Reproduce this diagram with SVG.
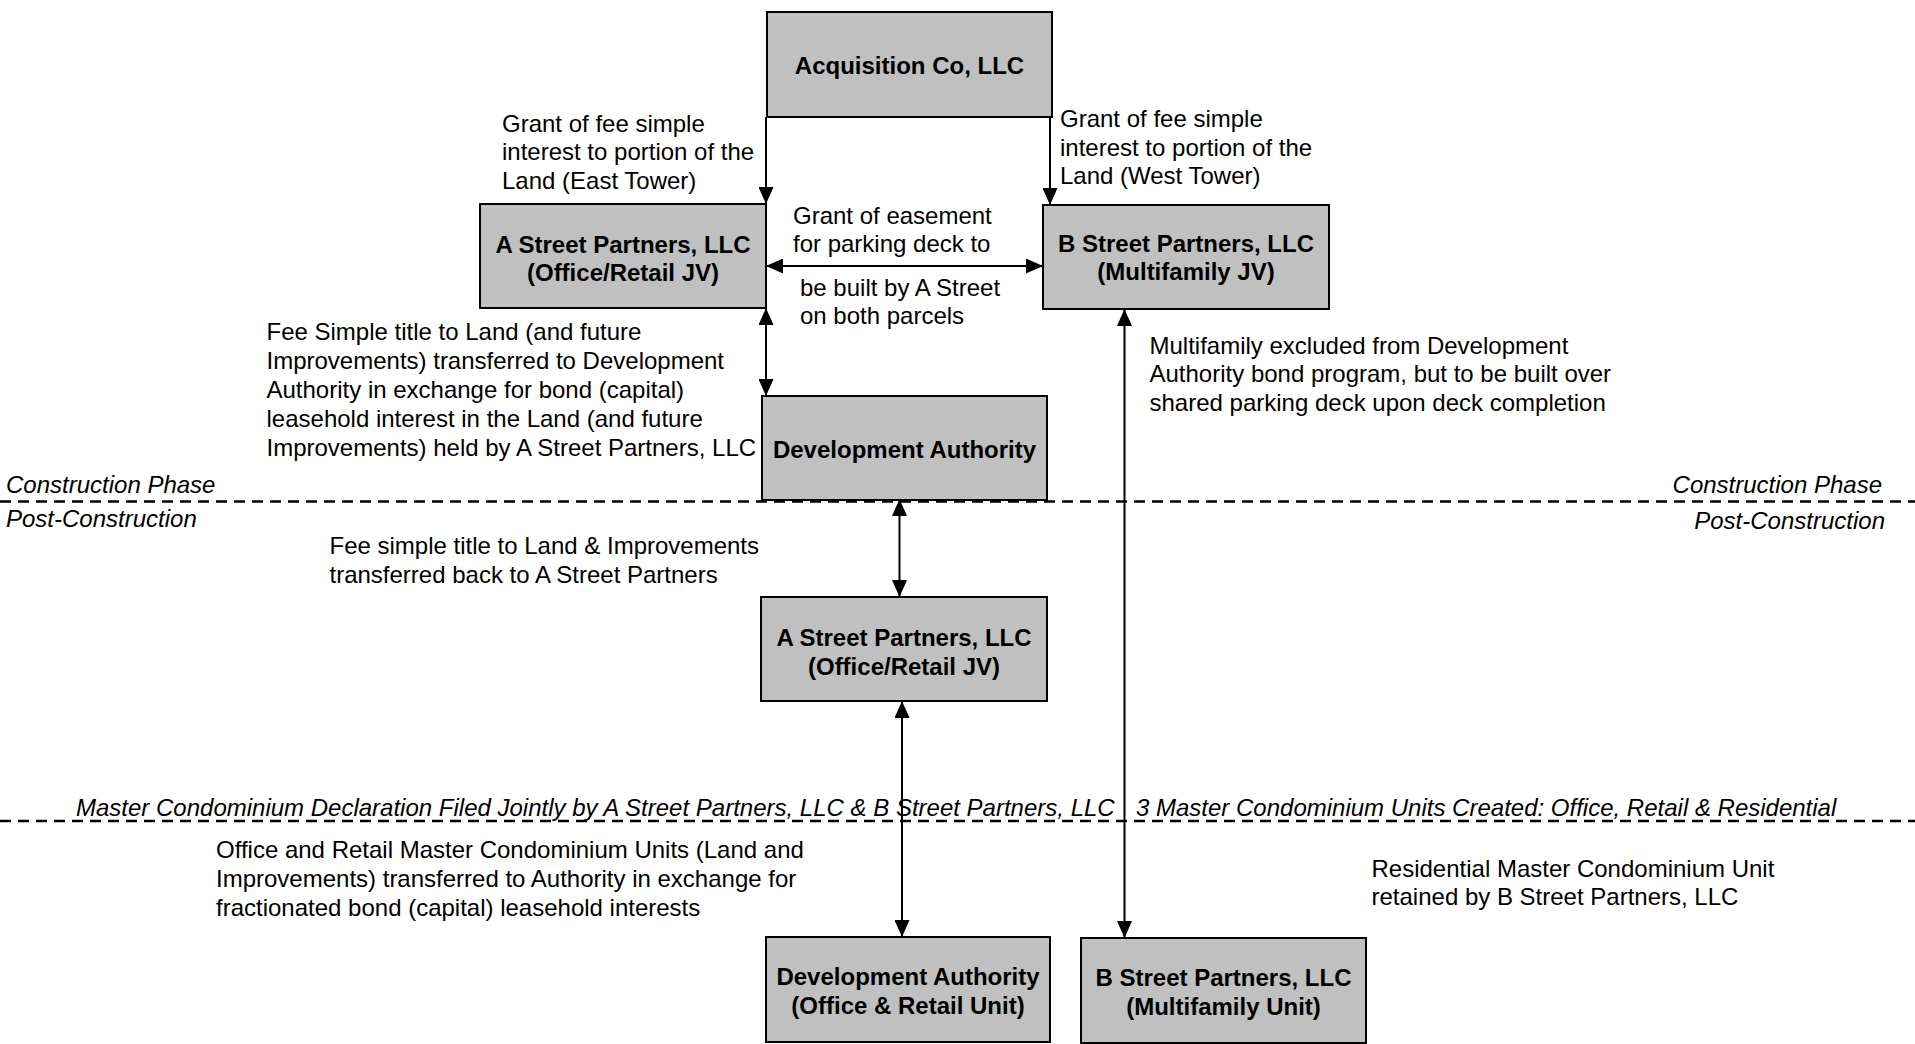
<svg xmlns="http://www.w3.org/2000/svg" width="1915" height="1044" viewBox="0 0 1915 1044">
<style>
.box{fill:#c0c0c0;stroke:#000;stroke-width:2}
.t{font-family:"Liberation Sans",Arial,sans-serif;font-size:24px;fill:#000}
.b{font-weight:bold;text-anchor:middle}
.i{font-style:italic}
.e{text-anchor:end}
.c{stroke:#000;stroke-width:2;fill:none}
.d{stroke:#000;stroke-width:2.6;stroke-dasharray:11 7;fill:none}
</style>
<defs>
<marker id="ah" markerUnits="userSpaceOnUse" markerWidth="17" markerHeight="15" refX="17" refY="7.5" orient="auto-start-reverse" viewBox="0 0 17 15">
<path d="M0,0 L17,7.5 L0,15 z" fill="#000"/>
</marker>
</defs>
<rect width="1915" height="1044" fill="#fff"/>

<g id="phase-lines">
<line class="d" x1="0" y1="501.5" x2="1915" y2="501.5"/>
<line class="d" x1="0" y1="821" x2="1915" y2="821"/>
<text class="t i" x="6" y="492.5">Construction Phase</text>
<text class="t i" x="6" y="526.5">Post-Construction</text>
<text class="t i e" x="1882" y="492.5">Construction Phase</text>
<text class="t i e" x="1885" y="528.5">Post-Construction</text>
<text class="t i" x="76" y="815.5">Master Condominium Declaration Filed Jointly by A Street Partners, LLC &amp; B Street Partners, LLC</text>
<text class="t i" x="1136" y="815.5">3 Master Condominium Units Created: Office, Retail &amp; Residential</text>
</g>

<g id="connectors">
<line class="c" x1="766" y1="117" x2="766" y2="204" marker-end="url(#ah)"/>
<line class="c" x1="1050" y1="117" x2="1050" y2="205" marker-end="url(#ah)"/>
<line class="c" x1="766" y1="266" x2="1043" y2="266" marker-start="url(#ah)" marker-end="url(#ah)"/>
<line class="c" x1="766" y1="308" x2="766" y2="396" marker-start="url(#ah)" marker-end="url(#ah)"/>
<line class="c" x1="899.5" y1="499" x2="899.5" y2="597" marker-start="url(#ah)" marker-end="url(#ah)"/>
<line class="c" x1="902" y1="701" x2="902" y2="937" marker-start="url(#ah)" marker-end="url(#ah)"/>
<line class="c" x1="1124.5" y1="309" x2="1124.5" y2="938" marker-start="url(#ah)" marker-end="url(#ah)"/>
</g>

<g id="labels">
<text class="t" x="502" y="131.5">Grant of fee simple</text>
<text class="t" x="502" y="160">interest to portion of the</text>
<text class="t" x="502" y="188.5">Land (East Tower)</text>
<text class="t" x="1060" y="127">Grant of fee simple</text>
<text class="t" x="1060" y="155.5">interest to portion of the</text>
<text class="t" x="1060" y="184">Land (West Tower)</text>
<text class="t" x="793" y="223.5">Grant of easement</text>
<text class="t" x="793" y="251.5">for parking deck to</text>
<text class="t" x="800" y="295.5">be built by A Street</text>
<text class="t" x="800" y="323.5">on both parcels</text>
<text class="t" x="266.5" y="339.5">Fee Simple title to Land (and future</text>
<text class="t" x="266.5" y="368.5">Improvements) transferred to Development</text>
<text class="t" x="266.5" y="397.5">Authority in exchange for bond (capital)</text>
<text class="t" x="266.5" y="426.5">leasehold interest in the Land (and future</text>
<text class="t" x="266.5" y="455.5">Improvements) held by A Street Partners, LLC</text>
<text class="t" x="1149.5" y="353.5">Multifamily excluded from Development</text>
<text class="t" x="1149.5" y="382">Authority bond program, but to be built over</text>
<text class="t" x="1149.5" y="410.5">shared parking deck upon deck completion</text>
<text class="t" x="329.5" y="553.5">Fee simple title to Land &amp; Improvements</text>
<text class="t" x="329.5" y="582.5">transferred back to A Street Partners</text>
<text class="t" x="216" y="858">Office and Retail Master Condominium Units (Land and</text>
<text class="t" x="216" y="887">Improvements) transferred to Authority in exchange for</text>
<text class="t" x="216" y="916">fractionated bond (capital) leasehold interests</text>
<text class="t" x="1371.5" y="876.5">Residential Master Condominium Unit</text>
<text class="t" x="1371.5" y="904.5">retained by B Street Partners, LLC</text>
</g>

<g id="acquisition-co">
<rect class="box" x="767" y="12" width="285" height="105"/>
<text class="t b" x="909.5" y="73.5">Acquisition Co, LLC</text>
</g>
<g id="a-street-1">
<rect class="box" x="480" y="204" width="286" height="104"/>
<text class="t b" x="623" y="252.5">A Street Partners, LLC</text>
<text class="t b" x="623" y="280.5">(Office/Retail JV)</text>
</g>
<g id="b-street-1">
<rect class="box" x="1043" y="205" width="286" height="104"/>
<text class="t b" x="1186" y="251.5">B Street Partners, LLC</text>
<text class="t b" x="1186" y="280">(Multifamily JV)</text>
</g>
<g id="development-authority-1">
<rect class="box" x="762" y="396" width="285" height="104"/>
<text class="t b" x="904.5" y="457.5">Development Authority</text>
</g>
<g id="a-street-2">
<rect class="box" x="761" y="597" width="286" height="104"/>
<text class="t b" x="904" y="645.5">A Street Partners, LLC</text>
<text class="t b" x="904" y="674.5">(Office/Retail JV)</text>
</g>
<g id="development-authority-2">
<rect class="box" x="766" y="937" width="284" height="105"/>
<text class="t b" x="908" y="984.5">Development Authority</text>
<text class="t b" x="908" y="1013.5">(Office &amp; Retail Unit)</text>
</g>
<g id="b-street-2">
<rect class="box" x="1081" y="938" width="285" height="105"/>
<text class="t b" x="1223.5" y="985.5">B Street Partners, LLC</text>
<text class="t b" x="1223.5" y="1014.5">(Multifamily Unit)</text>
</g>
</svg>
